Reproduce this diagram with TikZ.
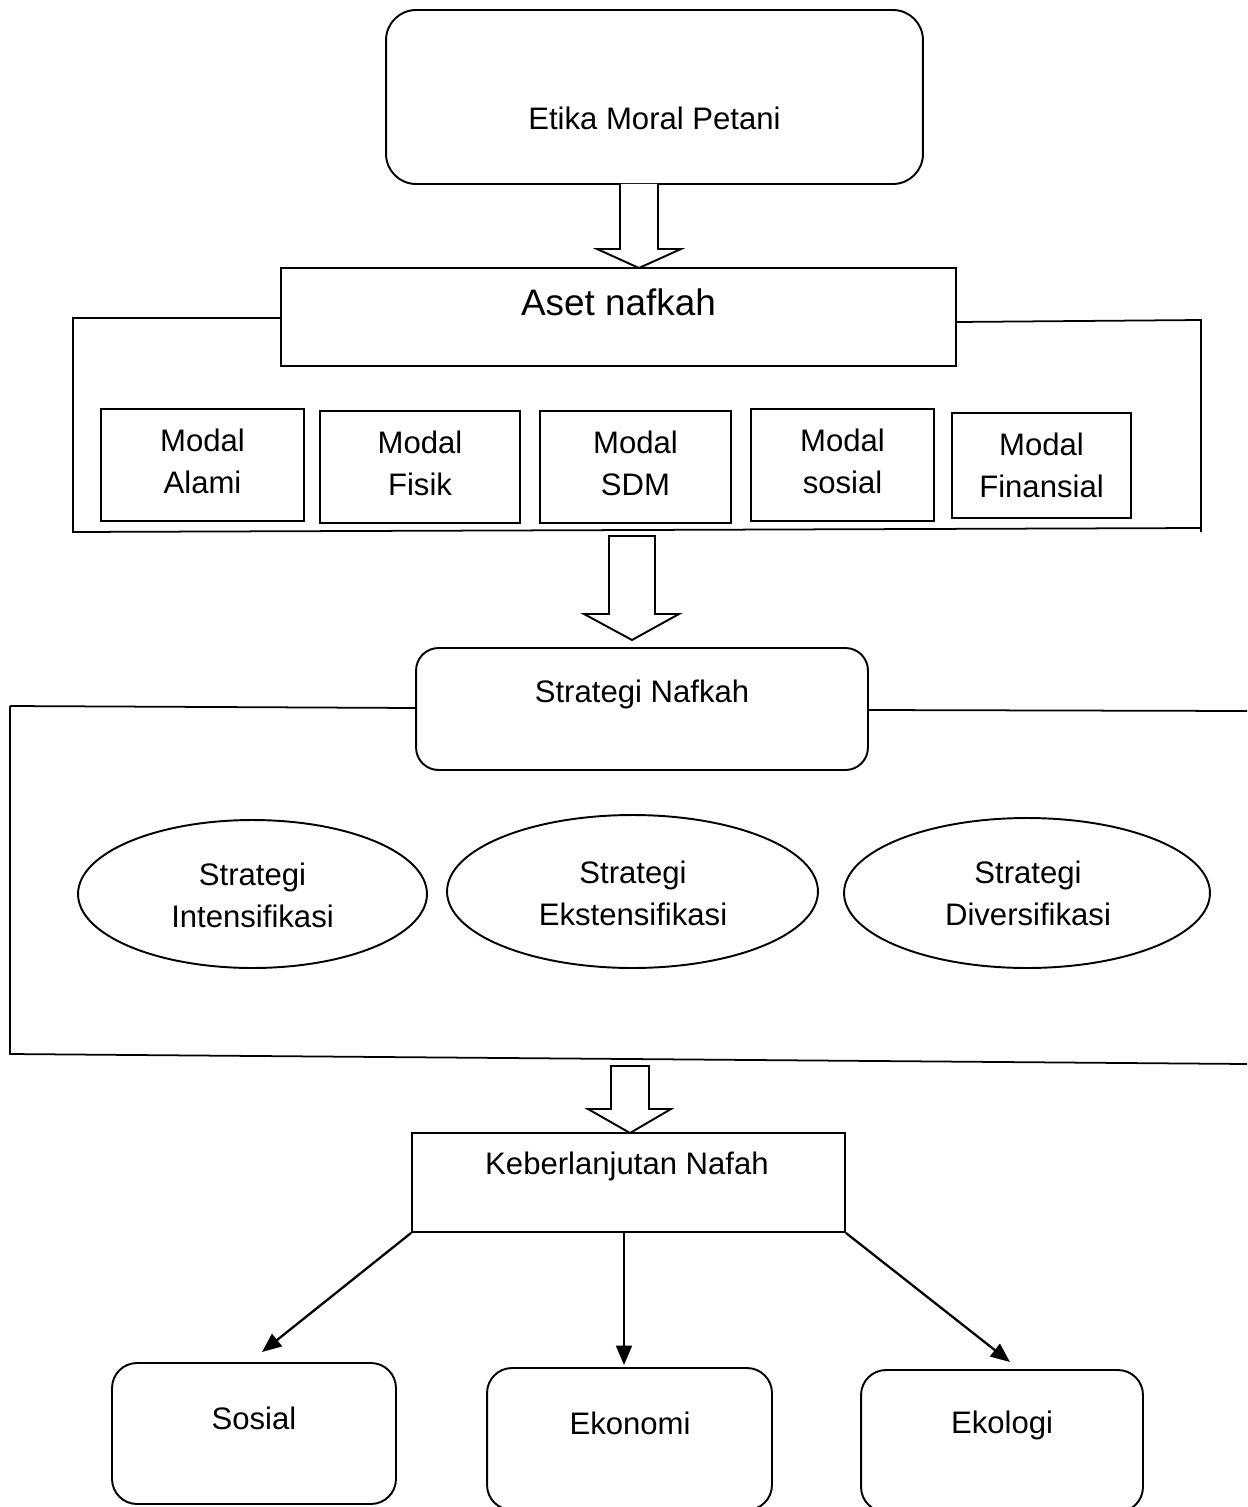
\documentclass[tikz,border=0pt]{standalone}
\usepackage{fontspec}
\setmainfont{Liberation Sans}
\usetikzlibrary{shapes.geometric,arrows.meta}
\tikzset{
  box/.style={draw, line width=1.1pt, inner sep=0pt},
  rbox/.style={box, rounded corners=0.5cm},
  oval/.style={draw, ellipse, line width=1.1pt, inner sep=0pt},
  txt/.style={font=\fontsize{17.7}{24}\selectfont, align=center, inner sep=0pt},
  bigtxt/.style={font=\fontsize{21}{25}\selectfont, inner sep=0pt},
  hollow/.style={draw, line width=1.1pt, fill=white, line join=miter},
  brk/.style={line width=1pt},
  conn/.style={line width=1.3pt, -{Triangle[length=11pt, width=9pt]}}
}
\begin{document}
\begin{tikzpicture}[x=0.02cm, y=-0.02cm]
\clip (0,0) rectangle (1247,1507);
\fill[white] (0,0) rectangle (1247,1507);

% Top box
\node[rbox, rounded corners=0.6cm, minimum width=10.74cm, minimum height=3.48cm] (etika) at (654.5,97) {};
\node[txt] (etikat) at (654.5,118) {Etika Moral Petani};

% Aset nafkah
\node[box, minimum width=13.5cm, minimum height=1.96cm] (aset) at (618.5,317) {};
\node[bigtxt] (asett) at (618.5,302) {Aset nafkah};

% hollow arrow 1
\draw[hollow] (620,184) -- (620,249) -- (597,249) -- (639,268) -- (681,249) -- (658,249) -- (658,184);

% bracket 1
\draw[brk] (aset.west |- 0,318) -- (73,318) -- (73,532) -- (1201,528);
\draw[brk] (aset.east |- 0,322) -- (1201,320) -- (1201,532);

% Modal boxes
\node[box, minimum width=4.06cm, minimum height=2.24cm] (m1) at (202.5,465) {};
\node[txt] (m1t) at (202.5,461) {Modal\\Alami};
\node[box, minimum width=4.0cm, minimum height=2.24cm] (m2) at (420,467) {};
\node[txt] (m2t) at (420,463) {Modal\\Fisik};
\node[box, minimum width=3.82cm, minimum height=2.24cm] (m3) at (635.5,467) {};
\node[txt] (m3t) at (635.5,463) {Modal\\SDM};
\node[box, minimum width=3.66cm, minimum height=2.24cm] (m4) at (842.5,465) {};
\node[txt] (m4t) at (842.5,461) {Modal\\sosial};
\node[box, minimum width=3.58cm, minimum height=2.1cm] (m5) at (1041.5,465.5) {};
\node[txt] (m5t) at (1041.5,465) {Modal\\Finansial};

% hollow arrow 2
\draw[hollow] (609,536) -- (609,614) -- (584,614) -- (632,640) -- (679,614) -- (655,614) -- (655,536) -- cycle;

% Strategi Nafkah
\node[rbox, rounded corners=0.45cm, minimum width=9.04cm, minimum height=2.44cm] (sn) at (642,709) {};
\node[txt] (snt) at (642,694) {Strategi Nafkah};

% bracket 2
\draw[brk] (sn.west |- 0,708) -- (10,706);
\draw[brk] (10,706) -- (10,1055);
\draw[brk] (10,1054) -- (1247,1064);
\draw[brk] (sn.east |- 0,710) -- (1247,711);

% Ellipses
\node[oval, minimum width=6.98cm, minimum height=2.96cm] (e1) at (252.5,894) {};
\node[txt] (e1t) at (252.5,895) {Strategi\\Intensifikasi};
\node[oval, minimum width=7.42cm, minimum height=3.06cm] (e2) at (632.5,891.5) {};
\node[txt] (e2t) at (633,893) {Strategi\\Ekstensifikasi};
\node[oval, minimum width=7.32cm, minimum height=3.0cm] (e3) at (1027,893) {};
\node[txt] (e3t) at (1028,893) {Strategi\\Diversifikasi};

% hollow arrow 3
\draw[hollow] (611,1066) -- (611,1109) -- (588,1109) -- (630,1133) -- (671,1109) -- (649,1109) -- (649,1066) -- cycle;

% Keberlanjutan
\node[box, minimum width=8.66cm, minimum height=1.98cm] (kb) at (628.5,1182.5) {};
\node[txt] (kbt) at (627,1166) {Keberlanjutan Nafah};

% Bottom boxes
\node[rbox, minimum width=5.68cm, minimum height=2.82cm] (sos) at (254,1433.5) {};
\node[txt] (sost) at (254,1418) {Sosial};
\node[rbox, minimum width=5.7cm, minimum height=2.84cm] (eko) at (629.5,1439) {};
\node[txt] (ekot) at (630,1423) {Ekonomi};
\node[rbox, minimum width=5.64cm, minimum height=2.84cm] (ekl) at (1002,1441) {};
\node[txt] (eklt) at (1002,1425) {Ekologi};

% connectors
\coordinate (c1) at (262,1352);
\coordinate (c2) at (624,1365);
\coordinate (c3) at (1010,1362);
\coordinate (k2) at (624,1232);
\draw[conn] (kb.south west) -- (c1);
\draw[conn] (k2) -- (c2);
\draw[conn] (kb.south east) -- (c3);
\end{tikzpicture}
\end{document}
